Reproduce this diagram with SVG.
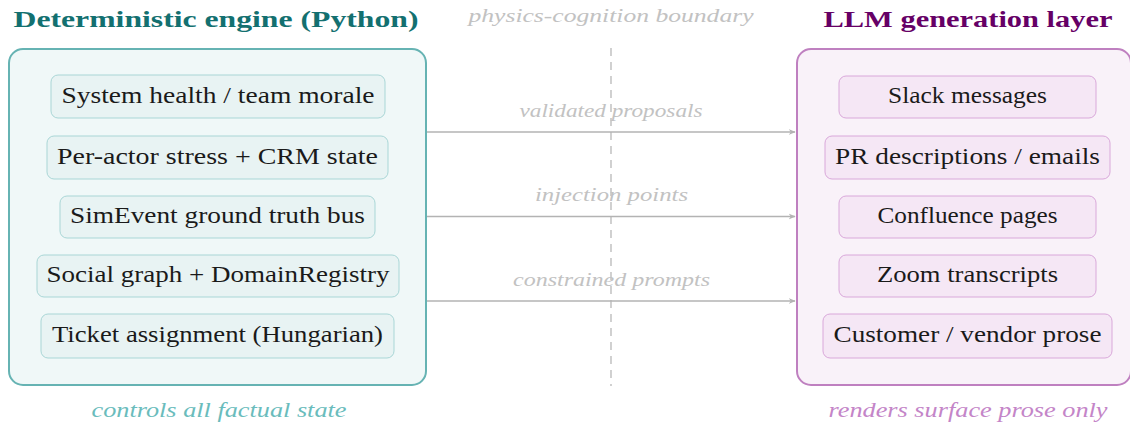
<svg xmlns="http://www.w3.org/2000/svg" width="1130" height="423" viewBox="0 0 1130 423">
<style>
text{font-family:"Liberation Serif","DejaVu Serif",serif}
.title{font-size:24px;font-weight:bold;text-anchor:middle}
.item{font-size:23.5px;fill:#1a1a1a;text-anchor:middle}
.note{font-size:19px;font-style:italic;text-anchor:middle;fill:#c2c2c2}
.cap{font-size:21px;font-style:italic;text-anchor:middle}
.lbox{fill:#f0f8f8;stroke:#66b3b3;stroke-width:2}
.rbox{fill:#f9f2f9;stroke:#bf80c0;stroke-width:2}
.li{fill:#e8f3f3;stroke:#a9d6d6;stroke-width:1}
.ri{fill:#f5e7f5;stroke:#d9a8da;stroke-width:1}
.arr{stroke:#b3b3b3;stroke-width:1.6;fill:none;marker-end:url(#ah)}
</style>
<defs>
<marker id="ah" viewBox="0 0 10 10" refX="9" refY="5" markerWidth="7" markerHeight="7" markerUnits="userSpaceOnUse" orient="auto">
<path d="M0,1 L10,5 L0,9 L3,5 Z" fill="#b3b3b3"/>
</marker>
</defs>
<rect width="1130" height="423" fill="#ffffff"/>
<g id="boundary">
<line x1="611" y1="48" x2="611" y2="386" stroke="#cccccc" stroke-width="1.8" stroke-dasharray="8,6"/>
<text class="note" x="611" y="22" textLength="285" lengthAdjust="spacingAndGlyphs">physics-cognition boundary</text>
</g>
<g id="engine">
<text class="title" x="216" y="27" fill="#137070" textLength="405" lengthAdjust="spacingAndGlyphs">Deterministic engine (Python)</text>
<rect class="lbox" x="9" y="49" width="417" height="336" rx="14"/>
<text class="cap" x="219" y="417" fill="#6abcbc" textLength="255" lengthAdjust="spacingAndGlyphs">controls all factual state</text>
</g>
<g id="e1"><rect class="li" x="51" y="75" width="334" height="43" rx="7"/><text class="item" x="218" y="103" textLength="313" lengthAdjust="spacingAndGlyphs">System health / team morale</text></g>
<g id="e2"><rect class="li" x="47" y="136" width="341" height="43" rx="7"/><text class="item" x="217.5" y="164" textLength="321" lengthAdjust="spacingAndGlyphs">Per-actor stress + CRM state</text></g>
<g id="e3"><rect class="li" x="60" y="196" width="315" height="42" rx="7"/><text class="item" x="217.5" y="223" textLength="295" lengthAdjust="spacingAndGlyphs">SimEvent ground truth bus</text></g>
<g id="e4"><rect class="li" x="37" y="255" width="362" height="42" rx="7"/><text class="item" x="218" y="282" textLength="343" lengthAdjust="spacingAndGlyphs">Social graph + DomainRegistry</text></g>
<g id="e5"><rect class="li" x="41" y="314" width="353" height="44" rx="7"/><text class="item" x="217.5" y="342" textLength="331" lengthAdjust="spacingAndGlyphs">Ticket assignment (Hungarian)</text></g>
<g id="llm">
<text class="title" x="968" y="27" fill="#660066" textLength="289" lengthAdjust="spacingAndGlyphs">LLM generation layer</text>
<rect class="rbox" x="797" y="49" width="334" height="336" rx="14"/>
<text class="cap" x="968" y="417" fill="#c485c8" textLength="279" lengthAdjust="spacingAndGlyphs">renders surface prose only</text>
</g>
<g id="l1"><rect class="ri" x="839" y="76" width="257" height="42" rx="7"/><text class="item" x="967.5" y="103" textLength="159" lengthAdjust="spacingAndGlyphs">Slack messages</text></g>
<g id="l2"><rect class="ri" x="825" y="136" width="285" height="43" rx="7"/><text class="item" x="967.5" y="164" textLength="265" lengthAdjust="spacingAndGlyphs">PR descriptions / emails</text></g>
<g id="l3"><rect class="ri" x="839" y="196" width="257" height="42" rx="7"/><text class="item" x="967.5" y="223" textLength="180" lengthAdjust="spacingAndGlyphs">Confluence pages</text></g>
<g id="l4"><rect class="ri" x="839" y="255" width="257" height="42" rx="7"/><text class="item" x="967.5" y="282" textLength="181" lengthAdjust="spacingAndGlyphs">Zoom transcripts</text></g>
<g id="l5"><rect class="ri" x="823" y="314" width="289" height="44" rx="7"/><text class="item" x="967.5" y="342" textLength="268" lengthAdjust="spacingAndGlyphs">Customer / vendor prose</text></g>
<g id="connectors">
<line class="arr" x1="427" y1="132" x2="795" y2="132"/>
<line class="arr" x1="427" y1="216.5" x2="795" y2="216.5"/>
<line class="arr" x1="427" y1="301" x2="795" y2="301"/>
<text class="note" x="611" y="117" textLength="183" lengthAdjust="spacingAndGlyphs">validated proposals</text>
<text class="note" x="611.5" y="201" textLength="153" lengthAdjust="spacingAndGlyphs">injection points</text>
<text class="note" x="611.5" y="286" textLength="197" lengthAdjust="spacingAndGlyphs">constrained prompts</text>
</g>
</svg>
